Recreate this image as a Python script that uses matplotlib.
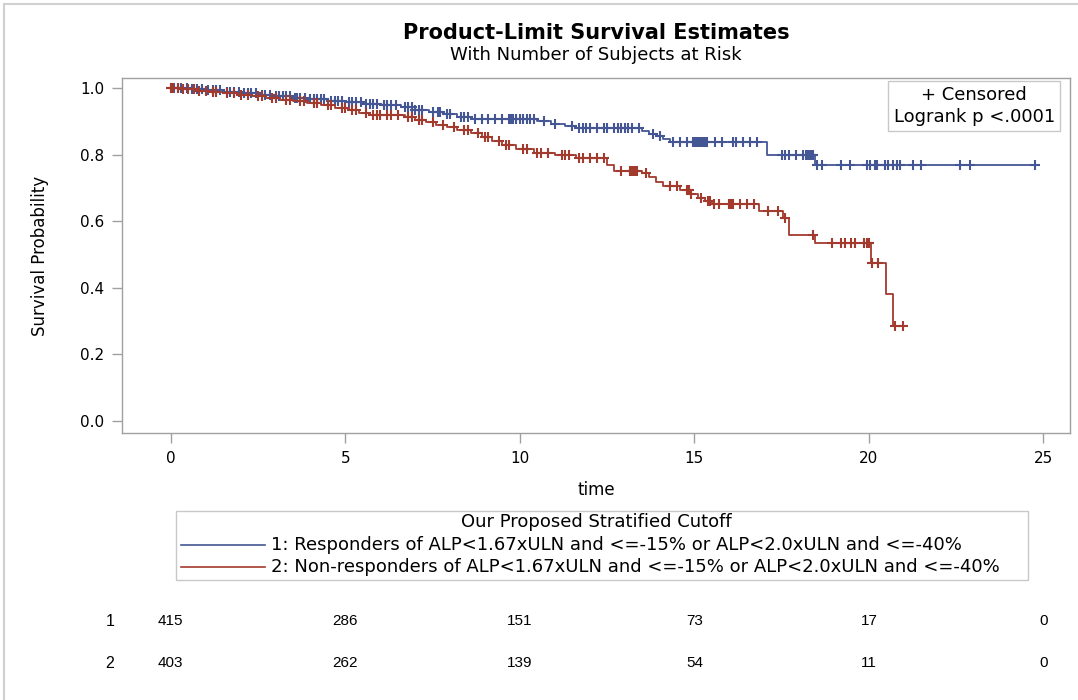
import numpy as np
import matplotlib
matplotlib.use("Agg")
import matplotlib.pyplot as plt
from matplotlib.transforms import blended_transform_factory
from matplotlib.lines import Line2D
from matplotlib.patches import Rectangle

plt.rcParams['font.family'] = ['DejaVu Sans']

# ---- Kaplan-Meier step estimates (time of event, survival after event) ----
blue_times = [0.5, 1.0, 1.5, 2.0, 2.5, 3.0, 3.5, 4.0, 4.5, 5.0, 5.5, 6.0, 6.6, 7.0,
              7.4, 7.8, 8.2, 8.6, 10.5, 10.9, 11.3, 11.6, 13.5, 13.7, 13.9, 14.1,
              14.3, 17.07, 18.45]
blue_surv = [0.997, 0.993, 0.989, 0.985, 0.980, 0.975, 0.970, 0.966, 0.961, 0.957,
             0.952, 0.948, 0.942, 0.935, 0.928, 0.921, 0.914, 0.906, 0.900, 0.893,
             0.886, 0.879, 0.870, 0.862, 0.855, 0.848, 0.838, 0.800, 0.768]
blue_end = 24.76

red_times = [0.3, 0.7, 1.1, 1.5, 1.9, 2.3, 2.7, 3.1, 3.5, 3.9, 4.3, 4.7, 5.1, 5.4,
             5.7, 6.7, 7.0, 7.3, 7.6, 7.9, 8.2, 8.6, 8.9, 9.2, 9.5, 9.9, 10.4, 11.0,
             11.6, 12.5, 12.7, 13.5, 13.7, 13.9, 14.1, 14.6, 14.9, 15.1, 15.3, 15.5,
             16.85, 17.55, 17.7, 18.45, 20.05, 20.5, 20.7]
red_surv = [0.996, 0.992, 0.988, 0.984, 0.980, 0.975, 0.970, 0.965, 0.960, 0.955,
            0.948, 0.941, 0.934, 0.926, 0.918, 0.912, 0.905, 0.898, 0.890, 0.882,
            0.874, 0.865, 0.852, 0.840, 0.828, 0.816, 0.806, 0.800, 0.790, 0.770,
            0.752, 0.745, 0.732, 0.718, 0.705, 0.695, 0.683, 0.670, 0.660, 0.652,
            0.630, 0.610, 0.560, 0.535, 0.474, 0.381, 0.285]
red_end = 21.03

# ---- censoring times ----
blue_censor = [0.0, 0.1, 0.2, 0.3, 0.45, 0.6, 0.75, 0.9, 1.05, 1.2, 1.3, 1.4, 1.6, 1.7,
               1.8, 1.95, 2.1, 2.2, 2.3, 2.45, 2.6, 2.7, 2.85, 3.0, 3.1, 3.2, 3.3, 3.4,
               3.55, 3.6, 3.7, 3.85, 4.0, 4.1, 4.2, 4.3, 4.4, 4.6, 4.7, 4.8, 4.9, 5.1,
               5.2, 5.3, 5.45, 5.6, 5.7, 5.8, 5.9, 6.1, 6.2, 6.3, 6.45, 6.7, 6.8, 6.9,
               7.0, 7.1, 7.2, 7.5, 7.65, 7.7, 7.9, 8.0, 8.3, 8.4, 8.5, 8.7, 8.9, 9.1,
               9.3, 9.5, 9.7, 9.75, 9.8, 9.9, 10.0, 10.1, 10.2, 10.3, 10.4, 10.7,
               11.0, 11.5, 11.7, 11.8, 11.9, 12.0, 12.2, 12.4, 12.5, 12.7, 12.8, 12.9,
               13.0, 13.1, 13.2, 13.4, 13.8, 14.0, 14.4, 14.6, 14.8, 14.95, 15.0, 15.05,
               15.1, 15.15, 15.2, 15.25, 15.3, 15.35, 15.6, 15.8, 16.1, 16.2, 16.4,
               16.6, 16.8, 17.5, 17.6, 17.7, 17.9, 18.1, 18.2, 18.25, 18.3, 18.35,
               18.4, 18.5, 18.65, 19.2, 19.45, 19.95, 20.03, 20.17, 20.23, 20.46,
               20.54, 20.69, 20.8, 20.9, 21.27, 21.5, 22.6, 22.9, 24.76]
red_censor = [0.0, 0.05, 0.2, 0.35, 0.5, 0.65, 0.8, 1.0, 1.2, 1.3, 1.6, 1.8, 2.0, 2.2,
              2.5, 2.6, 2.9, 3.0, 3.3, 3.4, 3.7, 3.8, 4.1, 4.2, 4.5, 4.6, 4.9, 5.0,
              5.2, 5.3, 5.6, 5.8, 5.9, 6.0, 6.2, 6.3, 6.5, 6.8, 6.9, 7.1, 7.2, 7.5,
              7.8, 8.1, 8.4, 8.5, 8.8, 9.0, 9.1, 9.4, 9.6, 9.7, 10.1, 10.2, 10.5,
              10.6, 10.8, 11.2, 11.3, 11.4, 11.7, 11.8, 12.0, 12.2, 12.4, 12.9, 13.15,
              13.2, 13.25, 13.3, 13.35, 13.6, 14.3, 14.5, 14.8, 14.85, 14.9, 15.2,
              15.4, 15.45, 15.55, 15.7, 16.0, 16.05, 16.1, 16.3, 16.5, 16.7, 17.1,
              17.4, 17.6, 18.4, 18.95, 19.2, 19.3, 19.5, 19.6, 19.85, 19.95, 20.0,
              20.08, 20.25, 20.75, 20.97]

# ---- number at risk ----
risk_times = [0, 5, 10, 15, 20, 25]
risk_blue = [415, 286, 151, 73, 17, 0]
risk_red = [403, 262, 139, 54, 11, 0]

group_labels = ["1: Responders of ALP<1.67xULN and <=-15% or ALP<2.0xULN and <=-40%",
                "2: Non-responders of ALP<1.67xULN and <=-15% or ALP<2.0xULN and <=-40%"]

BLUE = "#445694"
RED = "#A23A2E"
GREY = "#A0A0A0"

W, H = 1078, 700
fig = plt.figure(figsize=(W / 100, H / 100), dpi=100)


def fx(px):
    return px / W


def fy(py):
    return 1 - py / H


ax = fig.add_axes([fx(122), fy(433), fx(1070) - fx(122), fy(78) - fy(433)])


def km_curve(times, surv, end):
    t = np.concatenate([[0.0], times, [end]])
    s = np.concatenate([[1.0], surv, [surv[-1]]])
    return t, s


def surv_at(times, surv, x):
    idx = np.searchsorted(np.asarray(times), np.asarray(x), side='right')
    s = np.concatenate([[1.0], surv])
    return s[idx]


for times, surv, end, cens, col in [(blue_times, blue_surv, blue_end, blue_censor, BLUE),
                                    (red_times, red_surv, red_end, red_censor, RED)]:
    t, s = km_curve(times, surv, end)
    ax.step(t, s, where='post', color=col, lw=1.3, zorder=3)
    ax.plot(cens, surv_at(times, surv, cens), ls='none', marker='+', ms=6.5,
            mew=1.5, color=col, zorder=4)

ax.set_xlim(-1.40, 25.76)
ax.set_ylim(-0.036, 1.03)
ax.set_xticks([0, 5, 10, 15, 20, 25])
ax.set_yticks([0.0, 0.2, 0.4, 0.6, 0.8, 1.0])
ax.set_yticklabels([f"{v:.1f}" for v in [0.0, 0.2, 0.4, 0.6, 0.8, 1.0]])
for sp in ax.spines.values():
    sp.set_color(GREY)
    sp.set_linewidth(1.0)
ax.tick_params(colors=GREY, labelcolor='black', labelsize=11, length=7, width=1, pad=6)
ax.set_xlabel("time", fontsize=12, labelpad=11)
ax.set_ylabel("Survival Probability", fontsize=12, labelpad=22)

# Inset box for censoring symbol and test result
ax.text(0.899, 0.921, "+ Censored\nLogrank p <.0001", transform=ax.transAxes,
        ha='center', va='center', fontsize=13, linespacing=1.25,
        bbox=dict(boxstyle='square,pad=0.3', fc='white', ec='#C8C8C8', lw=1))

# Titles
fig.text(fx(596), fy(33), "Product-Limit Survival Estimates", ha='center', va='center',
         fontsize=15, fontweight='bold')
fig.text(fx(596), fy(55), "With Number of Subjects at Risk", ha='center', va='center',
         fontsize=13)

# Group legend box
fig.add_artist(Rectangle((fx(176), fy(580)), fx(1028) - fx(176), fy(511) - fy(580),
                         transform=fig.transFigure, fc='none', ec='#C8C8C8', lw=1))
fig.text(fx(596), fy(522), "Our Proposed Stratified Cutoff", ha='center', va='center',
         fontsize=13)
for i, (lab, col) in enumerate(zip(group_labels, [BLUE, RED])):
    yy = fy(545 + 22 * i)
    fig.add_artist(Line2D([fx(181), fx(265)], [yy, yy], transform=fig.transFigure,
                          color=col, lw=1.2))
    fig.text(fx(271), yy, lab, ha='left', va='center', fontsize=13)

# Number-at-risk table
trans = blended_transform_factory(ax.transData, fig.transFigure)
for row, (vals, py) in enumerate([(risk_blue, 621), (risk_red, 663)]):
    fig.text(fx(110), fy(py), str(row + 1), ha='center', va='center', fontsize=11.5,
             family='Liberation Sans')
    for t, v in zip(risk_times, vals):
        ax.text(t, fy(py), str(v), transform=trans, ha='center', va='center',
                fontsize=11, family='Liberation Sans', clip_on=False)

# Outer frame
fig.add_artist(Line2D([fx(4), fx(4)], [fy(4), 0], transform=fig.transFigure,
                      color='#D0D0D0', lw=1.5))
fig.add_artist(Line2D([fx(4), 1], [fy(4), fy(4)], transform=fig.transFigure,
                      color='#D0D0D0', lw=1.5))

fig.savefig("out.png", dpi=100)
